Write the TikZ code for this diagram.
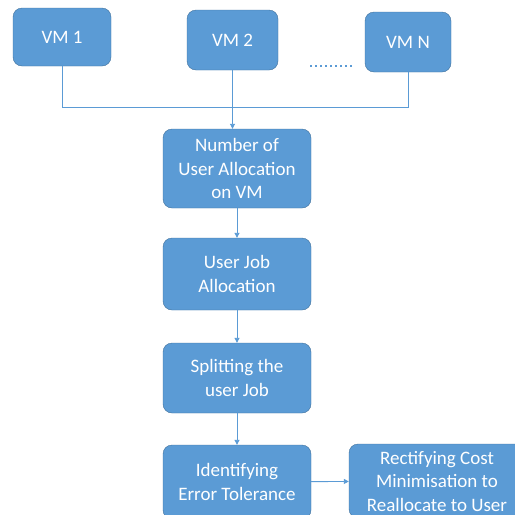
\documentclass[tikz,border=0pt]{standalone}
\usepackage{fontspec}
\setmainfont{Carlito}
\usepackage{xcolor}
\usepackage{tikz}
\usetikzlibrary{arrows.meta}

\definecolor{boxblue}{HTML}{5B9BD5}
\definecolor{edgeblue}{HTML}{41719C}

\tikzset{
    stage/.style={draw=edgeblue, fill=boxblue, rounded corners=9pt, text=white,
        align=center, inner sep=0pt, font=\fontsize{19}{23.5}\selectfont},
    link/.style={draw=boxblue, line width=0.9pt},
    flow/.style={link, -{Triangle[length=5pt, width=5pt]}}
}

\begin{document}
\begin{tikzpicture}[x=1pt, y=-1pt]
        \useasboundingbox (0, 0) rectangle (515, 515);
        \clip (0, 0) rectangle (515, 515);

        \node[stage, minimum width=98pt, minimum height=58pt] (vm1) at (62, 37) {VM 1};
        \node[stage, minimum width=91pt, minimum height=60pt] (vm2) at (232.5, 40) {VM 2};
        \node[stage, minimum width=86pt, minimum height=60pt] (vmn) at (408, 42) {VM N};
        \coordinate (dotsl) at (310, 66);
        \coordinate (dotsr) at (354, 66);
        \coordinate (bus) at (0, 107);

        \node[stage, minimum width=148pt, minimum height=79pt] (count) at (237, 168.5)
            {Number of\\User Allocation\\on VM};
        \node[stage, minimum width=148pt, minimum height=72pt] (alloc) at (237, 274)
            {User Job\\Allocation};
        \node[stage, minimum width=148pt, minimum height=70pt] (split) at (237, 378)
            {Splitting the\\user Job};
        \node[stage, minimum width=148pt, minimum height=74pt] (error) at (237, 482)
            {Identifying\\Error Tolerance};
        \node[stage, minimum width=176pt, minimum height=74pt] (cost) at (437, 481)
            {Rectifying Cost\\Minimisation to\\Reallocate to User};

        % bus under the VMs
        \draw[link] (vm1.south) -- (vm1.south |- bus) -| (vmn.south);
        \draw[boxblue, line width=2.2pt, dash pattern=on 2.2pt off 2.8pt] (dotsl) -- (dotsr);

        \draw[flow] (vm2.south) -- (vm2.south |- count.north);
        \draw[flow] (count) -- (alloc);
        \draw[flow] (alloc) -- (split);
        \draw[flow] (split) -- (error);
        \draw[flow] (error) -- (cost);
\end{tikzpicture}
\end{document}
